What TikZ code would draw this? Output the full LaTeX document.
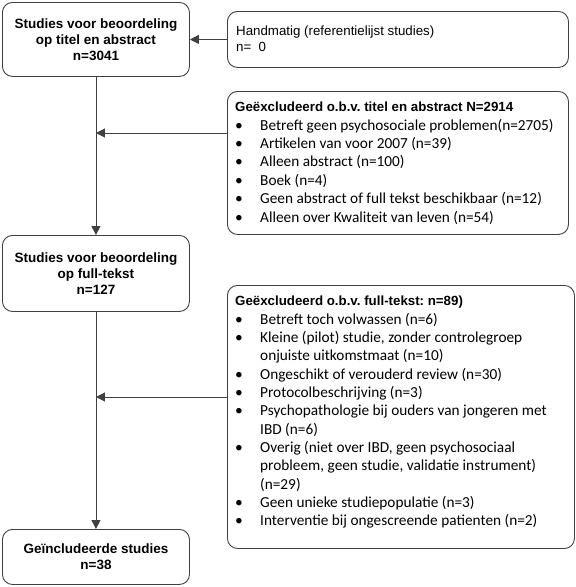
\documentclass[tikz,border=0pt]{standalone}
\usepackage{fontspec}
\setmainfont{Liberation Sans}
\newfontfamily\calfont{Carlito}
\usetikzlibrary{arrows.meta}
\definecolor{linegray}{HTML}{404040}
\frenchspacing
\begin{document}
\begin{tikzpicture}[x=1pt,y=-1pt,
  box/.style={draw=linegray, line width=0.9pt, rounded corners=10pt, inner sep=0pt, anchor=north west},
  mainbox/.style={box, align=center, font=\bfseries\fontsize{13.5}{16}\selectfont},
  ttl/.style={anchor=base west, inner sep=0pt, font=\bfseries\fontsize{13.3}{16}\selectfont},
  plain/.style={anchor=base west, inner sep=0pt, font=\fontsize{13.3}{16}\selectfont},
  itm/.style={anchor=base west, inner sep=0pt, font=\calfont\fontsize{15.3}{18}\selectfont},
  bul/.style={anchor=base, inner sep=0pt, font=\calfont\fontsize{15.5}{18}\selectfont},
  arr/.style={draw=linegray, line width=0.9pt, -{Triangle[length=9pt,width=9pt]}}
]
\useasboundingbox (0,0) rectangle (576,587);

% main boxes
\node[mainbox, minimum width=187pt, minimum height=74pt] (b1) at (2,2)
  {Studies voor beoordeling\\op titel en abstract\\n=3041};
\node[mainbox, minimum width=187pt, minimum height=76pt] (b2) at (2,235)
  {Studies voor beoordeling\\op full-tekst\\n=127};
\node[mainbox, minimum width=187pt, minimum height=55pt] (b3) at (2,529)
  {Geïncludeerde studies\\n=38};

% side boxes
\node[box, minimum width=341pt, minimum height=56pt] (h) at (227,11) {};
\node[box, minimum width=341pt, minimum height=143pt] (e1) at (227,91) {};
\node[box, minimum width=347pt, minimum height=263pt] (e2) at (227,285) {};

% Handmatig text
\node[plain] (h1) at (236,35) {Handmatig (referentielijst studies)};
\node[plain] (h2) at (236,51) {n=\ \ 0};

% Excluded 1
\node[ttl] (e1t) at (235,111) {Geëxcludeerd o.b.v. titel en abstract N=2914};
\foreach \txt [count=\i from 0] in {
  Betreft geen psychosociale problemen(n=2705),
  Artikelen van voor 2007 (n=39),
  Alleen abstract (n=100),
  Boek (n=4),
  Geen abstract of full tekst beschikbaar (n=12),
  Alleen over Kwaliteit van leven (n=54)}{
  \node[bul] (e1b\i) at (239,130+18.4*\i) {•};
  \node[itm] (e1i\i) at (260,130+18.4*\i) {\txt};
}

% Excluded 2
\node[ttl] (e2t) at (235,305) {Geëxcludeerd o.b.v. full-tekst: n=89)};
\foreach \k/\txt in {
  0/Betreft toch volwassen (n=6),
  1/Kleine (pilot) studie{,} zonder controlegroep /,
  3/Ongeschikt of verouderd review (n=30),
  4/Protocolbeschrijving (n=3),
  5/Psychopathologie bij ouders van jongeren met,
  7/Overig (niet over IBD{,} geen psychosociaal,
  10/Geen unieke studiepopulatie (n=3),
  11/Interventie bij ongescreende patienten (n=2)}{
  \node[bul] (e2b\k) at (239,324+18.35*\k) {•};
  \node[itm] (e2i\k) at (260,324+18.35*\k) {\txt};
}
\foreach \k/\txt in {
  2/onjuiste uitkomstmaat (n=10),
  6/IBD (n=6),
  8/probleem{,} geen studie{,} validatie instrument),
  9/(n=29)}{
  \node[itm] (e2c\k) at (260,324+18.35*\k) {\txt};
}

% connectors
\coordinate (j1) at (b1.south |- 0,133);
\coordinate (j2) at (b1.south |- 0,397);
\draw[arr] (h.west) -- (b1.east |- h.west);
\draw[arr] (b1.south) -- (b2.north);
\draw[arr] (e1.west |- j1) -- (j1);
\draw[arr] (b2.south) -- (b3.north);
\draw[arr] (e2.west |- j2) -- (j2);
\end{tikzpicture}
\end{document}
